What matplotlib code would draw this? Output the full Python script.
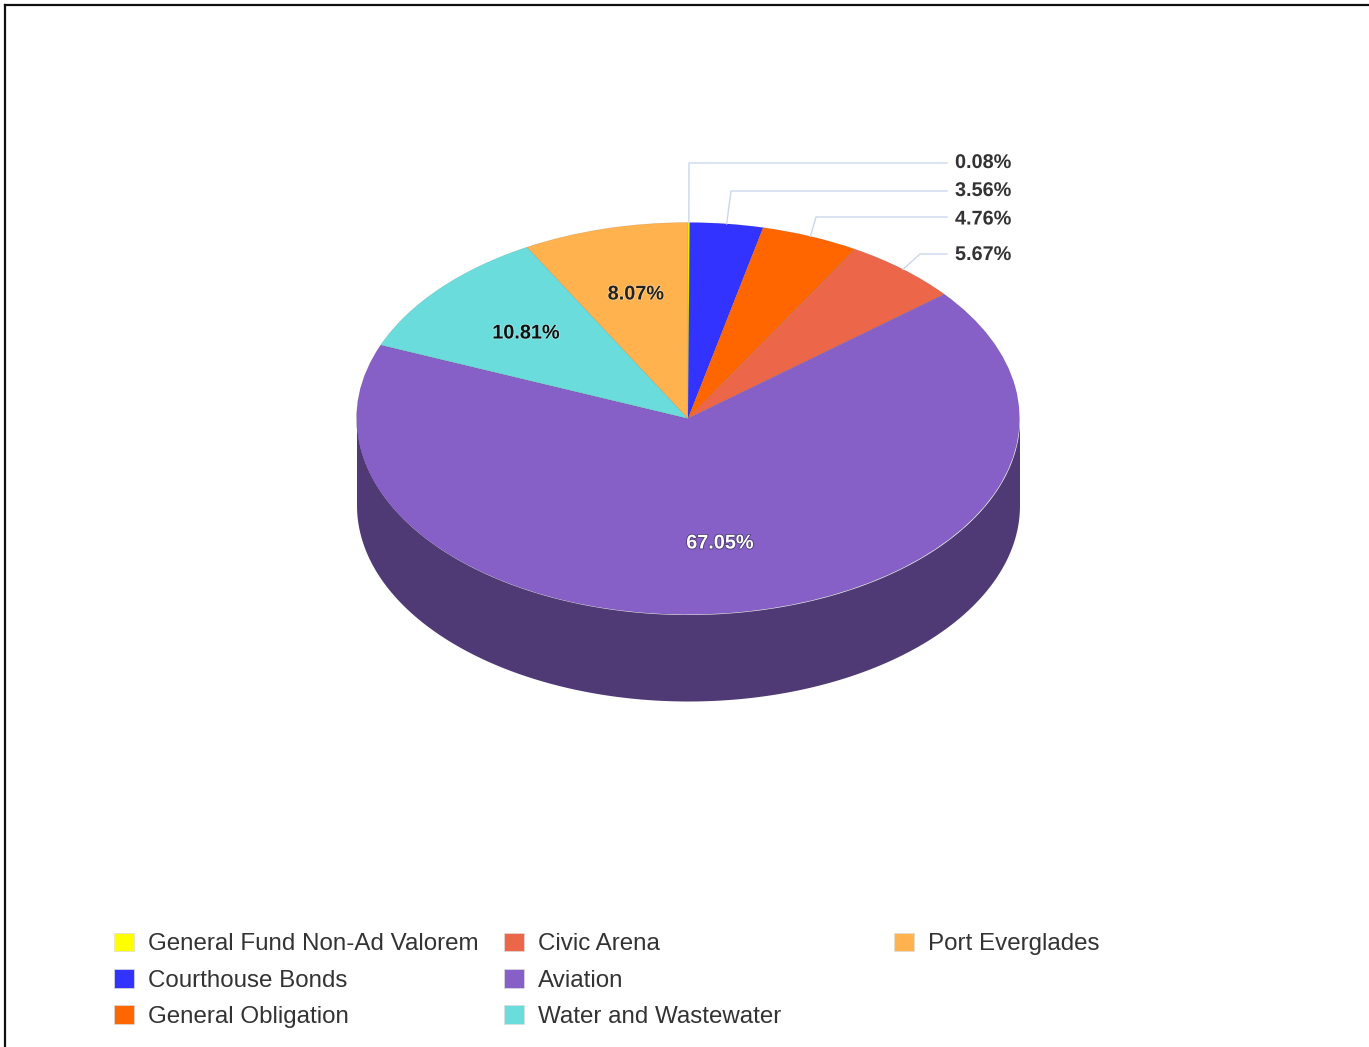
import matplotlib
matplotlib.use("Agg")
import matplotlib.pyplot as plt
import matplotlib.patheffects as pe
from matplotlib.lines import Line2D
from matplotlib.patches import Patch
import numpy as np

W, H = 1369, 1047
CX, CY, RX, RY, DEPTH = 688.0, 418.5, 331.5, 196.0, 86.5

categories = ['General Fund Non-Ad Valorem', 'Courthouse Bonds', 'General Obligation',
              'Civic Arena', 'Aviation', 'Water and Wastewater', 'Port Everglades']
shares = [0.08, 3.56, 4.76, 5.67, 67.05, 10.81, 8.07]
colors = ['#FFFF00', '#3333FF', '#FF6600', '#EC674A', '#8660C6', '#6BDCDC', '#FFB24D']
side_color = '#4F3A75'

plt.rcParams['font.family'] = ['Liberation Sans', 'DejaVu Sans']


def px(x, y):
    # pixel position on the canvas -> pie units
    return (x - CX) / RX, (CY - y) / RY


fig = plt.figure(figsize=(W / 100, H / 100), dpi=100, facecolor='white')
ax = fig.add_axes([0, 0, 1, 1])

# rim of the disc, only the front half shows
t = np.linspace(np.pi, 2 * np.pi, 400)
ax.fill_between(np.cos(t), np.sin(t), np.sin(t) - DEPTH / RY, color=side_color, lw=0)

ax.pie(shares, colors=colors, startangle=90, counterclock=False, radius=1,
       wedgeprops={'linewidth': 0.4, 'edgecolor': '#00000022'})
ax.set_aspect('auto')
ax.set_xlim(px(0, 0)[0], px(W, 0)[0])
ax.set_ylim(px(0, H)[1], px(0, 0)[1])
ax.axis('off')

# outside labels with elbow leaders: slice, leader y, elbow x, text y
outside = [(0, 163, 689, 162.5), (1, 191, 731, 190.5), (2, 217, 816, 219), (3, 254, 920, 254.5)]
cum = np.cumsum(shares)
for i, ly, ex, ty in outside:
    mid = np.deg2rad((cum[i] - shares[i] / 2) * 3.6)
    sx, sy = np.sin(mid), np.cos(mid)
    ex_d, ey_d = px(ex, ly)
    end_d = px(947, ly)[0]
    ax.plot([sx, ex_d, end_d], [sy, ey_d, ey_d], color='#CCD6EB', lw=1.0, zorder=1)
    lx_d, ly_d = px(955, ty)
    ax.text(lx_d, ly_d, f'{shares[i]:.2f}%', ha='left', va='center', fontsize=14.3,
            fontweight='bold', color='#333333',
            path_effects=[pe.withStroke(linewidth=1.5, foreground='white')])

# inside labels
inside = [(4, 720, 543, 'white', '#4a3a70'), (5, 526, 333, '#111111', '#9fe8e8'), (6, 636, 294, '#222222', '#ffd08c')]
for i, x, y, c, halo in inside:
    xd, yd = px(x, y)
    ax.text(xd, yd, f'{shares[i]:.2f}%', ha='center', va='center', fontsize=14.3,
            fontweight='bold', color=c,
            path_effects=[pe.withStroke(linewidth=1.2, foreground=halo)])

# three separate legend columns so they sit on an even grid
for col, x0 in enumerate([114, 504, 894]):
    idx = range(col * 3, min(col * 3 + 3, len(categories)))
    handles = [Patch(facecolor=colors[i], edgecolor='#dddddd', lw=0.5, label=categories[i]) for i in idx]
    leg = fig.legend(handles=handles, loc='upper left', bbox_to_anchor=(x0 / W, 1 - 932.5 / H),
                     frameon=False, fontsize=17.35, labelcolor='#333333', borderpad=0, borderaxespad=0,
                     handlelength=0.83, handleheight=0.83, handletextpad=0.58, labelspacing=0.56)

# thin dark border along the top and left edges
fig.add_artist(Line2D([5 / W, 1], [1 - 5 / H, 1 - 5 / H], color='#111111', lw=1.6))
fig.add_artist(Line2D([5 / W, 5 / W], [0, 1 - 5 / H], color='#111111', lw=1.6))

fig.savefig('out.png', dpi=100, facecolor='white')
